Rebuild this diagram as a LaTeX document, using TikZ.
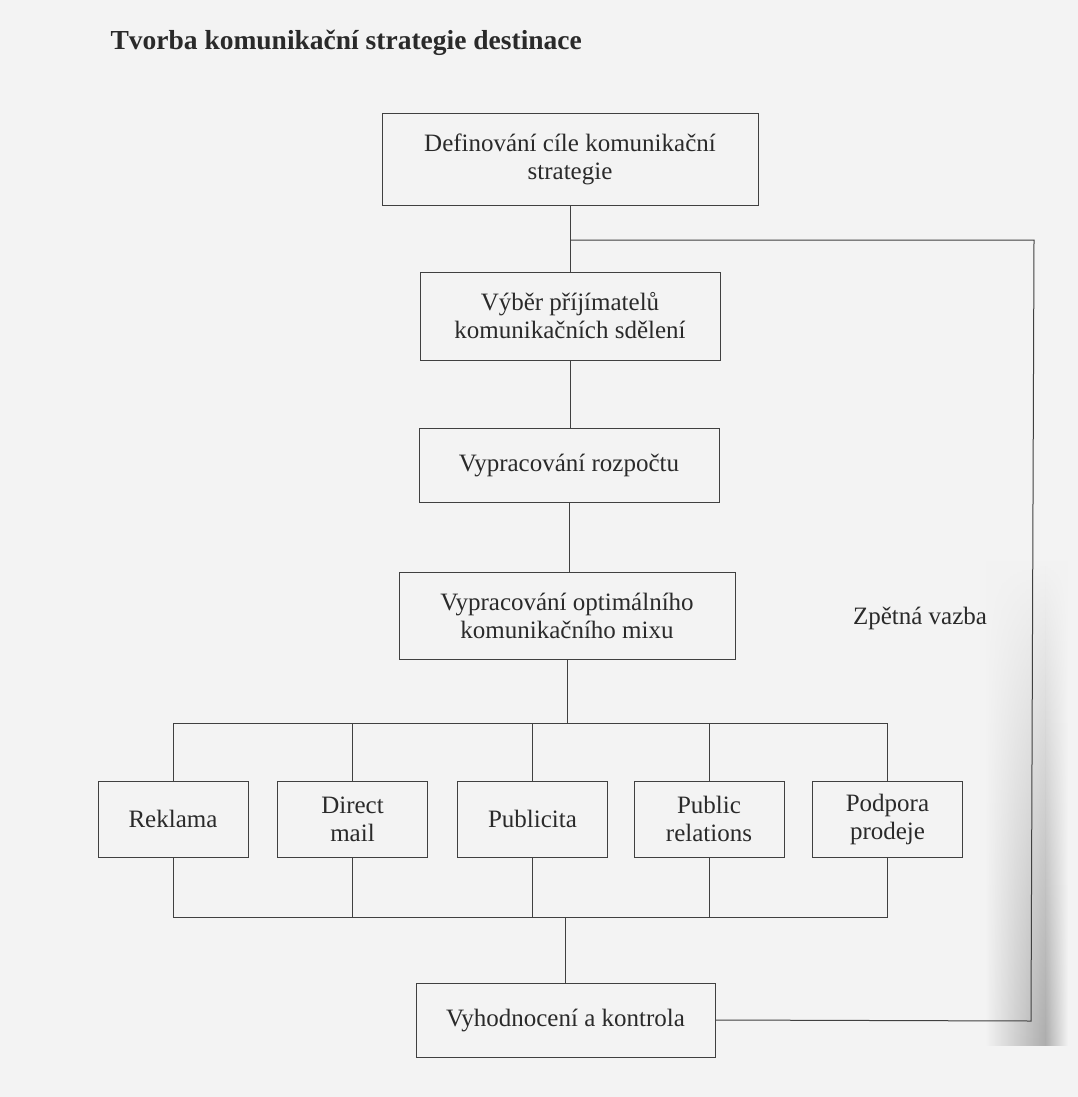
\documentclass[tikz,border=0pt]{standalone}
\usepackage{fontspec}
\usetikzlibrary{fadings}
\setmainfont{Liberation Serif}
\definecolor{bg}{HTML}{F3F3F3}
\definecolor{ink}{HTML}{404040}
\definecolor{txt}{HTML}{2A2A2A}
\begin{document}
\begin{tikzpicture}[x=1pt,y=-1pt,
  box/.style={draw=ink, line width=1pt, rectangle, inner sep=0pt, align=center,
    text=txt, font=\fontsize{25}{28}\selectfont},
  small/.style={box, minimum width=150, minimum height=76},
  conn/.style={draw=ink, line width=1pt}]
\fill[bg] (0,0) rectangle (1078,1097);
\useasboundingbox (0,0) rectangle (1078,1097);
% scan shadow at right edge
\shade[left color=bg, right color=black!32, draw=none, path fading=north] (985,560) rectangle (1045,1045);
\shade[left color=black!32, right color=bg, draw=none, path fading=north] (1045,560) rectangle (1068,1045);

\node[anchor=base west, text=txt, font=\fontsize{27.5}{30}\selectfont\bfseries] (title) at (107,50) {Tvorba komunikační strategie destinace};

\node[box, minimum width=376, minimum height=91] (b1) at (570,159.5) {Definování cíle komunikační\\strategie};
\node[box, minimum width=300, minimum height=88] (b2) at (570,316) {Výběr příjímatelů\\komunikačních sdělení};
\node[box, minimum width=300, minimum height=74] (b3) at (569,465) {Vypracování rozpočtu};
\node[box, minimum width=336, minimum height=87] (b4) at (567,615.5) {Vypracování optimálního\\komunikačního mixu};

\node[small] (r1) at (173,819) {Reklama};
\node[small] (r2) at (352.5,819) {Direct\\mail};
\node[small] (r3) at (532.5,819) {Publicita};
\node[small] (r4) at (709,819) {Public\\relations};
\node[small] (r5) at (887.5,819) {Podpora\\prodeje};

\node[box, minimum width=299, minimum height=74] (b6) at (565.5,1020) {Vyhodnocení a kontrola};

\node[anchor=base, text=txt, font=\fontsize{25}{28}\selectfont] (fbl) at (920,624) {Zpětná vazba};

% main chain
\draw[conn] (b1.south) -- (b2.north);
\draw[conn] (b2.south) -- (b2.south |- b3.north);
\draw[conn] (b3.south) -- (b3.south |- b4.north);

% top bus
\coordinate (tb) at (567,723);
\draw[conn] (b4.south) -- (tb);
\draw[conn] (r1.north) |- (tb);
\draw[conn] (r5.north) |- (tb);
\draw[conn] (r2.north) -- (r2.north |- tb);
\draw[conn] (r3.north) -- (r3.north |- tb);
\draw[conn] (r4.north) -- (r4.north |- tb);

% bottom bus
\coordinate (bb) at (565.5,917);
\draw[conn] (r1.south) |- (bb);
\draw[conn] (r5.south) |- (bb);
\draw[conn] (r2.south) -- (r2.south |- bb);
\draw[conn] (r3.south) -- (r3.south |- bb);
\draw[conn] (r4.south) -- (r4.south |- bb);
\draw[conn] (bb) -- (b6.north);

% feedback loop
\coordinate (fj) at (570,240);
\coordinate (ft) at (1034,240);
\coordinate (fb) at (1031,1021);
\draw[conn] (b6.east) -- (fb) -- (ft) -- (fj);
\end{tikzpicture}
\end{document}
